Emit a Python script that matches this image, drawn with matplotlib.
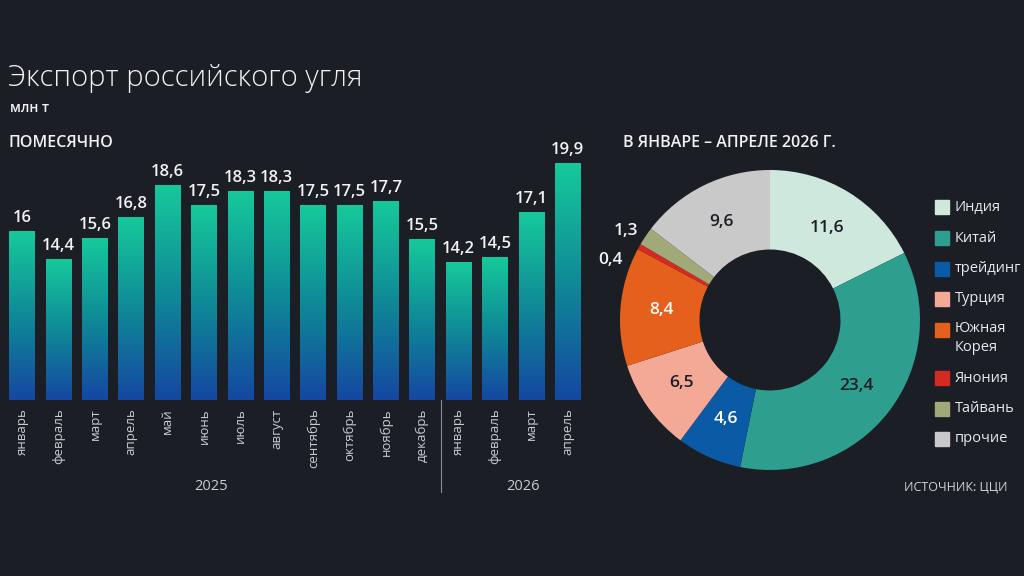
import numpy as np
import matplotlib
matplotlib.use("Agg")
import matplotlib.pyplot as plt
from matplotlib.colors import LinearSegmentedColormap
from matplotlib.patches import Rectangle

plt.rcParams['font.family'] = ['Open Sans', 'DejaVu Sans']

# ---- data ----
months = ["январь", "февраль", "март", "апрель", "май", "июнь", "июль", "август",
          "сентябрь", "октябрь", "ноябрь", "декабрь",
          "январь", "февраль", "март", "апрель"]
monthly_values = [16, 14.4, 15.6, 16.8, 18.6, 17.5, 18.3, 18.3, 17.5, 17.5, 17.7, 15.5,
                  14.2, 14.5, 17.1, 19.9]
years = ["2025", "2026"]

countries = ["Индия", "Китай", "трейдинг", "Турция", "Южная\nКорея", "Янония", "Тайвань", "прочие"]
country_values = [11.6, 23.4, 4.6, 6.5, 8.4, 0.4, 1.3, 9.6]
country_colors = ["#cfe8de", "#2e9e8e", "#0b5aa6", "#f3a996", "#e5601d", "#d42a22", "#a2a978", "#c9c9c9"]
label_colors = ["#1b1e25", "#1b1e25", "white", "#1b1e25", "white", "white", "white", "#1b1e25"]

BG = "#1b1e25"
TXT = "#f2f2f2"

def fmt(v):
    return ("%g" % v).replace(".", ",")

fig = plt.figure(figsize=(10.24, 5.76), dpi=100, facecolor=BG)
W, H = 1024, 576

def px_axes(x0, y0, x1, y1):
    return fig.add_axes([x0 / W, 1 - y1 / H, (x1 - x0) / W, (y1 - y0) / H])

# ---- bar chart ----
ax = px_axes(4, 150, 586, 400)
ax.set_facecolor(BG)
ymin = 6.3
ymax = 6.3 + 250 / 17.4
cmap = LinearSegmentedColormap.from_list("g", ["#1547a2", "#0f8a97", "#16c99b"])
grad = np.linspace(0, 1, 256).reshape(-1, 1)
bw = 0.71
x = np.arange(len(months))
ax.bar(x, np.array(monthly_values) - ymin, bottom=ymin, width=bw, color="none")
for xi, v in zip(x, monthly_values):
    ax.imshow(grad, extent=[xi - bw / 2, xi + bw / 2, ymin, v], origin="lower",
              cmap=cmap, aspect="auto", zorder=2)
    ax.annotate(fmt(v), (xi, v), xytext=(0, 4), textcoords="offset points",
                ha="center", va="bottom", color=TXT, fontsize=12, fontweight="semibold")
ax.set_xlim(-0.5, len(months) - 0.5)
ax.set_ylim(ymin, ymax)
ax.set_xticks(x)
ax.set_xticklabels(months, rotation=90, color="#c9cdd2", fontsize=9.5, va="top")
ax.tick_params(axis="x", length=0, pad=6)
ax.set_yticks([])
for s in ax.spines.values():
    s.set_visible(False)

# overlay axes in pixel coordinates
ov = fig.add_axes([0, 0, 1, 1])
ov.set_xlim(0, W)
ov.set_ylim(H, 0)
ov.axis("off")
ov.patch.set_alpha(0)

ov.plot([441, 441], [400, 492], color="#8a8f96", lw=0.8)
ov.text(211, 487, years[0], ha="center", va="center", color="#c9cdd2", fontsize=10.5)
ov.text(523, 487, years[1], ha="center", va="center", color="#c9cdd2", fontsize=10.5)

ov.text(8, 78, "Экспорт российского угля", ha="left", va="center", color=TXT,
        fontsize=21, fontweight="light")
ov.text(10, 108, "млн т", ha="left", va="center", color=TXT, fontsize=10, fontweight="semibold")
ov.text(9, 143, "ПОМЕСЯЧНО", ha="left", va="center", color=TXT, fontsize=11.5, fontweight="semibold")
ov.text(623, 143, "В ЯНВАРЕ – АПРЕЛЕ 2026 Г.", ha="left", va="center", color=TXT,
        fontsize=11.5, fontweight="semibold")
ov.text(1008, 487, "ИСТОЧНИК: ЦЦИ", ha="right", va="center", color="#d0d3d7", fontsize=9)

# ---- donut ----
pax = px_axes(620, 170, 920, 470)
pax.set_facecolor(BG)
wedges, _ = pax.pie(country_values, colors=country_colors, startangle=90, counterclock=False,
                    radius=1, wedgeprops=dict(width=0.53, edgecolor="none"))
pax.set_xlim(-1, 1)
pax.set_ylim(-1, 1)
pax.set_aspect("equal")
for i, (w, v) in enumerate(zip(wedges, country_values)):
    ang = np.deg2rad((w.theta1 + w.theta2) / 2)
    if v < 2:
        extra = np.deg2rad(7) if v < 1 else 0
        r = 1.06
        pax.text(r * np.cos(ang + extra), r * np.sin(ang + extra), fmt(v), ha="right", va="center",
                 color=TXT, fontsize=12.5, fontweight="semibold")
    else:
        r = 0.725
        pax.text(r * np.cos(ang), r * np.sin(ang), fmt(v), ha="center", va="center",
                 color=label_colors[i], fontsize=12.5, fontweight="semibold")

# legend
rows = [207, 238, 269, 299, 330, 378, 409, 439]
for name, col, yy in zip(countries, country_colors, rows):
    ov.add_patch(Rectangle((935, yy - 7), 14, 14, color=col))
    ov.text(955, yy + (8 if "\n" in name else 0), name, ha="left", va="center",
            color="#e6e8ea", fontsize=10.5, linespacing=1.3)

fig.savefig("out.png", dpi=100, facecolor=BG)
